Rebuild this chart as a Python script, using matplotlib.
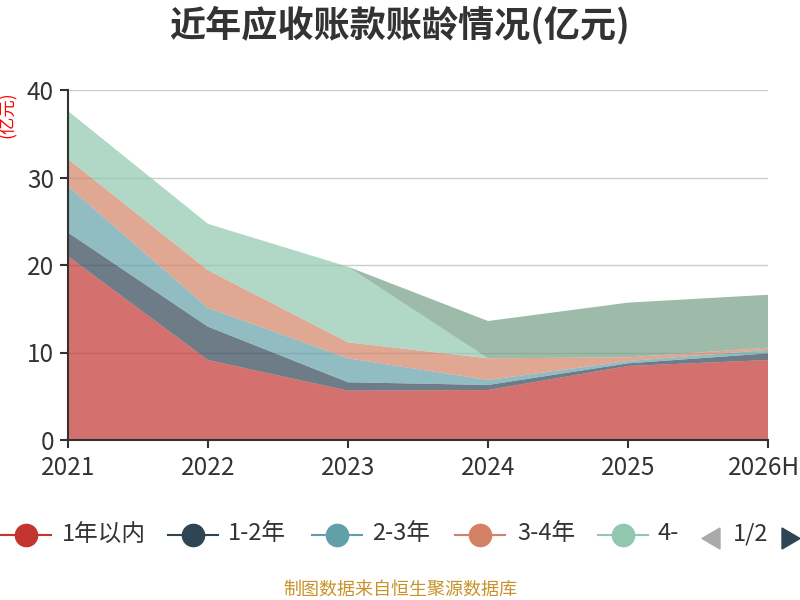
import matplotlib
matplotlib.use("Agg")
import matplotlib.pyplot as plt
from matplotlib.lines import Line2D
from matplotlib.patches import Polygon
import matplotlib.transforms as mtransforms
import numpy as np

plt.rcParams['font.family'] = ['Noto Sans CJK SC', 'DejaVu Sans']

years = ["2021", "2022", "2023", "2024", "2025", "2026H"]
series_names = ["1年以内", "1-2年", "2-3年", "3-4年", "4-5年", "5年以上"]
v_within1 = [21.0, 9.14, 5.64, 5.71, 8.46, 9.14]
v_1to2 = [2.7, 3.81, 0.96, 0.58, 0.30, 0.76]
v_2to3 = [5.3, 2.15, 2.73, 0.57, 0.27, 0.40]
v_3to4 = [3.1, 4.30, 1.83, 2.47, 0.42, 0.25]
v_4to5 = [5.5, 5.30, 8.64, 0.0, 0.0, 0.0]
v_over5 = [0.0, 0.0, 0.0, 4.27, 6.25, 6.05]
colors = ["#c23531", "#2f4554", "#61a0a8", "#d48265", "#91c7ae", "#749f83"]
yticks = [0, 10, 20, 30, 40]

W, H = 800, 600
fig = plt.figure(figsize=(8, 6), dpi=100)
ax = fig.add_axes([68 / W, 1 - 440 / H, 700 / W, 350 / H])

x = np.arange(len(years))
data = [v_within1, v_1to2, v_2to3, v_3to4, v_4to5, v_over5]
ax.stackplot(x, *data, colors=colors, alpha=0.7, linewidth=0, zorder=2)

ax.set_xlim(0, len(years) - 1)
ax.set_ylim(0, 40)
ax.set_xticks(x)
ax.set_xticklabels(years)
ax.set_yticks(yticks)
ax.set_yticklabels([str(t) for t in yticks])
ax.set_axisbelow(True)
ax.yaxis.grid(True, color="#cccccc", linewidth=1.0)
ax.xaxis.grid(False)
for s in ["top", "right"]:
    ax.spines[s].set_visible(False)
for s in ["left", "bottom"]:
    ax.spines[s].set_color("#333333")
    ax.spines[s].set_linewidth(1.5)
    ax.spines[s].set_zorder(5)
ax.tick_params(axis="both", colors="#333333", labelsize=17.5, length=6, width=1.5,
               labelcolor="#333333")
ax.tick_params(axis="y", pad=4)
ax.tick_params(axis="x", pad=5)

# keep the last x label inside the canvas
last = ax.get_xticklabels()[-1]
last.set_transform(last.get_transform() +
                   mtransforms.ScaledTranslation(-4 / 100, 0, fig.dpi_scale_trans))

def fx(px):
    return px / W

def fy(py):
    return 1 - py / H

# Title
fig.text(0.5, fy(25), "近年应收账款账龄情况(亿元)", ha="center", va="center",
         fontsize=26, fontweight="bold", color="#333333")

# Y axis unit label
fig.text(fx(8), fy(115), "(亿元)", rotation=90, ha="center", va="center",
         fontsize=12.5, color="#ff0000")

# Legend (page 1 of 2)
leg_y = 535
leg_items = [
    (26, 62, series_names[0], colors[0]),
    (193, 228, series_names[1], colors[1]),
    (337, 372, series_names[2], colors[2]),
    (480, 517, series_names[3], colors[3]),
    (623, 658, "4-", colors[4]),
]
for cx, tx, label, c in leg_items:
    fig.add_artist(Line2D([fx(cx - 25), fx(cx + 25)], [fy(leg_y), fy(leg_y)],
                          transform=fig.transFigure, color=c, linewidth=1.5))
    fig.add_artist(Line2D([fx(cx)], [fy(leg_y)], transform=fig.transFigure,
                          marker="o", markersize=16, color=c, linestyle="none"))
    fig.text(fx(tx), fy(leg_y - 1), label, ha="left", va="center",
             fontsize=17, color="#333333")

# Pager
fig.add_artist(Polygon([[fx(720), fy(528)], [fx(720), fy(549)], [fx(702), fy(538.5)]],
                       closed=True, transform=fig.transFigure, color="#aaaaaa"))
fig.text(fx(751), fy(leg_y - 1), "1/2", ha="center", va="center",
         fontsize=17, color="#333333")
fig.add_artist(Polygon([[fx(782), fy(528)], [fx(782), fy(549)], [fx(800), fy(538.5)]],
                       closed=True, transform=fig.transFigure, color="#2f4554"))

# Source
fig.text(0.5, fy(590), "制图数据来自恒生聚源数据库", ha="center", va="center",
         fontsize=13, color="#c8922a")

fig.savefig("out.png", dpi=100)
